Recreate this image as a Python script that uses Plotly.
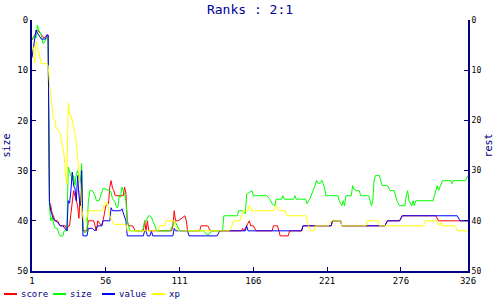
import plotly.graph_objects as go

# ---- data (x = sample index, y = rank) ----
score_x = [1,3,5,7,8,10,11,12,13,14,15,16,17,18,20,22,26,27,28,29,30,31,32,34,35,36,37,38,39,42,43,47,48,49,50,53,55,56,58,59,60,61,62,63,69,70,71,72,73,76,78,84,85,86,87,88,105,106,107,108,110,115,116,117,126,127,132,134,157,158,159,163,164,166,168,180,181,184,186,192,193,202,203,224,225,231,232,264,266,275,277,302,304,326]
score_y = [4,3,2,2.6,3,3.6,3.3,3,3,36.3,37,38.5,39,40,40,41,41,42,41,41,38.6,36,34,36,37,39.5,34,36,42,42,40,40,41,42,40,41,38.6,37,36.6,33.3,32,33.5,34,35,35,33.3,34.5,40,41,41,42,42,40,42,40,42,42,41,38,40,40,39,40,42,42,41,41,42,42,41.5,42,40,41,41,42,42,41,41,43,43,42,42,41,41,40,40,41,41,40,40,39,39,40,40]

size_x = [1,2,3,4,5,6,7,8,9,10,11,12,13,14,15,16,17,18,20,21,22,24,25,27,28,29,30,31,32,33,34,35,36,37,38,39,40,41,42,43,44,46,48,49,51,52,53,54,59,60,61,63,64,65,66,67,68,70,71,72,73,74,83,84,85,86,88,89,90,91,93,94,104,106,107,108,109,111,129,131,133,135,143,144,154,155,158,160,161,163,165,166,176,178,180,182,183,187,188,189,196,197,198,205,206,208,210,212,213,214,216,217,218,219,220,229,230,232,233,234,235,239,240,241,243,245,246,252,254,255,256,257,260,261,262,266,268,271,272,273,275,279,280,281,282,284,285,286,287,300,301,302,303,304,305,307,313,314,315,324,326]
size_y = [4,3.6,3,3.6,1,2,2.5,3,4.6,4.6,4,3.5,3.3,37,40,39.3,40.5,41.4,41.5,42.6,43,43,42,42,29.3,30,31,32,31,33,30.6,30,31.5,32.5,28.6,41.4,42.3,42.3,41.5,36.3,34,34,35,36,36,35,34,33.5,34,34.4,35.6,36.3,37.3,37.3,35,35.3,33.3,34.5,36,40,41,42,42,41.5,40,40,39,39,39.3,40,41,42,42,41,40.3,40.3,41,42,42,42.7,42.7,42,42,39,39,38,38,38.6,34.7,34.4,34,35,35,35.6,36.6,37,35.7,35.7,35,35.7,35.7,35,35.7,35.7,36.6,35.7,34.5,33,31.9,32.5,32.5,31.9,32.6,33.3,35,35,36,37,36,37,35,35,33,33.7,34,34,35,35,37,36,32,31,31,32,33,33,34,34,35,36,37,37,35,34,36,37,36,37,36,36,35,34,33,34,33.3,32,32,32.6,32,32,31]

value_x = [1,2,3,4,5,7,8,11,12,13,14,15,16,17,20,22,24,26,27,28,29,30,31,32,33,34,35,36,37,38,39,42,43,46,48,49,50,53,54,59,60,61,67,68,69,70,71,72,84,85,86,87,89,90,91,106,107,108,117,118,139,141,160,161,162,202,203,224,225,231,232,264,266,275,277,318,320,326]
value_y = [7.5,5.5,3.3,2,2.6,3.6,3.8,3.8,3,3,36.3,38,39,39.7,40.3,41,41,41.7,42,36,36.5,34,30.3,33,33.5,36,31,35,37,30,43,43,41.5,41.5,42,41.5,41,41,40,40,37.4,38,38,37.6,38.5,39,40,43,43,42,42,43,43,42,43,43,41.5,42,42,43,43,42,42,41,42,42,41,41,40,40,41,41,40,40,39,39,40,40]

xp_x = [1,2,3,4,5,6,7,8,12,13,14,15,16,17,18,19,20,22,23,24,25,26,27,28,29,30,31,32,33,34,35,36,37,38,39,40,41,42,43,53,54,55,57,59,60,61,62,71,72,95,96,100,101,107,108,110,148,150,151,156,157,159,162,163,165,181,182,183,184,186,190,191,205,206,207,209,211,212,222,224,231,232,250,251,259,260,293,294,303,304,305,306,307,316,317,318,326]
xp_y = [5.6,5.4,8.6,4.3,5.3,6.3,7.6,8.7,8.7,9,12.4,15.6,17.3,19.6,19.8,21.6,21.6,22.6,24,25,27,31,32.6,16.6,18.8,18.9,20,21.5,22.5,24.5,27,29.6,33.3,37.3,39.3,40,40,39.3,38,38,37.5,36.5,36.3,39,39.5,40.3,40.7,40.7,42,42,41,41,40,40,41,42,42,41,40,40,39,38,38,37,38,38,37.3,37,37.6,38,38,39,39,40,41,42,42,41,41,40,40,41,41,40,40,41,41,40,40,40.7,41,40.3,41,41,41.3,42,42]

tick_x = [1, 56, 111, 166, 221, 276, 326]
tick_y = [0, 10, 20, 30, 40, 50]
names = ["score", "size", "value", "xp"]
colors = ["#ff0000", "#00ff00", "#0000ff", "#ffff00"]

NAVY = "#000080"
MONO = "DejaVu Sans Mono"

fig = go.Figure()
series = [(score_x, score_y), (size_x, size_y), (value_x, value_y), (xp_x, xp_y)]
for (sx, sy), nm, c in zip(series, names, colors):
    fig.add_trace(go.Scatter(x=sx, y=sy, mode="lines", name=nm,
                             line=dict(color=c, width=1), showlegend=False,
                             yaxis="y"))
# invisible trace to activate right axis
fig.add_trace(go.Scatter(x=[tick_x[0]], y=[tick_y[0]], yaxis="y2", mode="markers",
                         marker=dict(opacity=0), showlegend=False, hoverinfo="skip"))

W, H = 500, 300
L, R, T, B = 32, 32, 20, 29
pw, ph = W - L - R, H - T - B

def px2paper(px):
    return (px - L) / pw

def py2paper(py):
    return (H - B - py) / ph

shapes = []
annotations = []
leg_pos = [4, 53, 102, 152]
for nm, c, x0 in zip(names, colors, leg_pos):
    shapes.append(dict(type="line", xref="paper", yref="paper",
                       x0=px2paper(x0), x1=px2paper(x0 + 13),
                       y0=py2paper(294), y1=py2paper(294),
                       line=dict(color=c, width=2)))
    annotations.append(dict(xref="paper", yref="paper", x=px2paper(x0 + 15),
                            y=py2paper(294), text=nm, showarrow=False,
                            xanchor="left", yanchor="middle",
                            font=dict(family=MONO, size=9, color=NAVY)))

fig.update_layout(
    width=W, height=H,
    margin=dict(l=L, r=R, t=T, b=B, pad=0, autoexpand=False),
    paper_bgcolor="white", plot_bgcolor="white",
    title=dict(text="Ranks : 2:1", x=0.5, xref="paper", y=1 - 9 / H,
               yanchor="middle", xanchor="center",
               font=dict(family=MONO, size=13, color="#000099")),
    xaxis=dict(range=[1, 326], tickvals=tick_x, ticktext=[str(v) for v in tick_x],
               automargin=False,
               showgrid=False, zeroline=False, showline=True, linecolor=NAVY,
               linewidth=2, ticks="inside", ticklen=4, tickcolor=NAVY,
               tickfont=dict(family=MONO, size=9, color="black")),
    yaxis=dict(range=[50, 0], tickvals=tick_y, showgrid=False, zeroline=False,
               automargin=False,
               showline=True, linecolor=NAVY, linewidth=2, ticks="inside",
               ticklen=4, tickcolor=NAVY,
               tickfont=dict(family=MONO, size=9, color="black"),
               title=dict(text="size", standoff=5,
                          font=dict(family=MONO, size=10, color=NAVY))),
    yaxis2=dict(range=[50, 0], tickvals=tick_y, overlaying="y", side="right",
                automargin=False,
                showgrid=False, zeroline=False, showline=True, linecolor=NAVY,
                linewidth=2, ticks="inside", ticklen=4, tickcolor=NAVY,
                tickfont=dict(family=MONO, size=8, color="black"),
                title=dict(text="rest", standoff=5,
                           font=dict(family=MONO, size=10, color=NAVY))),
    shapes=shapes, annotations=annotations, showlegend=False,
)
fig.write_html("out.html")
